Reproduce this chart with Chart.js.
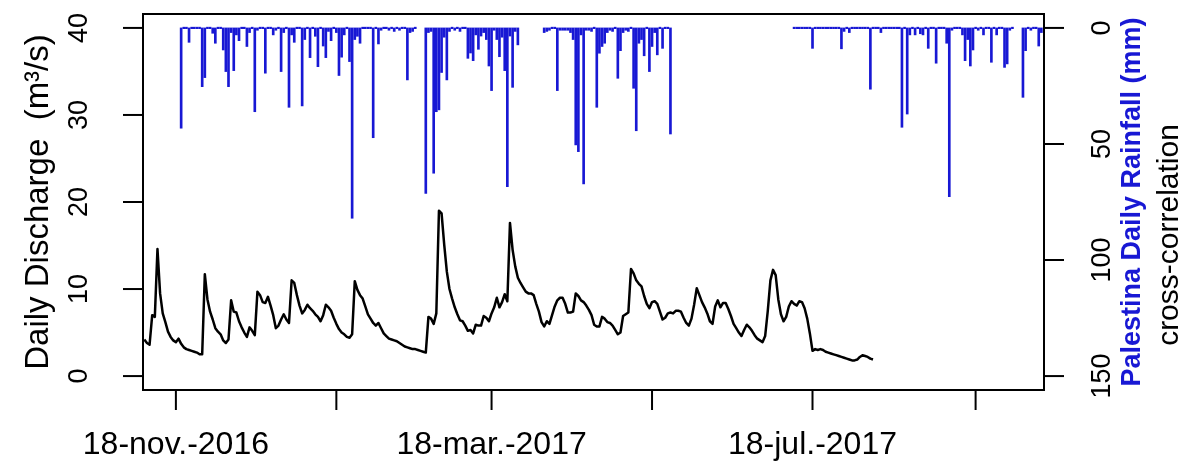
<!DOCTYPE html>
<html>
<head>
<meta charset="utf-8">
<title>Daily Discharge vs Palestina Daily Rainfall</title>
<script src="https://cdn.jsdelivr.net/npm/chart.js@4.4.1/dist/chart.umd.min.js"></script>
<style>
    html, body { margin: 0; padding: 0; background: #ffffff; }
    #wrap { width: 1185px; height: 465px; }
</style>
</head>
<body>
<div id="wrap"><canvas id="dischargeChart" width="1185" height="465"></canvas></div>
<script>
// Days are counted from 18-nov-2016 (day 0)
const firstDischargeDay = -12;

// Daily discharge (m3/s), one value per day starting at firstDischargeDay
const discharge = [
    4.2, 3.8, 3.6, 7.0, 6.8, 14.6, 9.5, 7.2, 6.2, 5.1, 4.5, 4.1,
    3.9, 4.3, 3.7, 3.3, 3.1, 3.0, 2.9, 2.8, 2.7, 2.5, 2.5, 11.7,
    8.8, 7.4, 6.5, 5.5, 5.1, 4.8, 4.1, 3.8, 4.2, 8.7, 7.4, 7.3,
    6.3, 5.6, 5.0, 4.5, 5.6, 5.2, 4.7, 9.7, 9.3, 8.5, 8.4, 9.1,
    8.1, 7.0, 5.5, 5.8, 6.5, 7.1, 6.5, 6.1, 11.0, 10.7, 9.3, 8.1,
    7.2, 7.6, 8.2, 7.8, 7.5, 7.1, 6.8, 6.3, 7.0, 8.2, 7.9, 7.5,
    6.7, 6.0, 5.4, 5.0, 4.8, 4.5, 4.4, 4.8, 10.9, 9.9, 9.3, 8.9,
    8.0, 7.1, 6.6, 6.1, 5.8, 6.1, 5.5, 4.9, 4.6, 4.3, 4.2, 4.1,
    4.0, 3.8, 3.6, 3.4, 3.3, 3.2, 3.1, 3.1, 3.0, 2.9, 2.8, 2.7,
    6.8, 6.6, 6.0, 7.2, 19.0, 18.7, 15.1, 12.0, 10.0, 8.9, 7.9, 7.1,
    6.4, 6.3, 5.8, 5.2, 5.3, 4.9, 5.9, 5.8, 5.8, 6.9, 6.7, 6.3,
    7.2, 7.9, 9.0, 7.9, 8.5, 9.4, 8.6, 17.6, 14.5, 12.6, 11.3, 10.7,
    10.2, 9.7, 9.5, 9.5, 9.3, 8.3, 7.4, 6.2, 5.7, 6.3, 6.0, 7.0,
    8.0, 8.7, 9.0, 9.0, 8.3, 7.3, 7.3, 7.4, 9.5, 9.2, 8.7, 8.5,
    8.1, 7.6, 7.0, 5.9, 5.7, 5.7, 6.8, 6.6, 6.2, 6.1, 5.8, 5.3,
    4.8, 5.0, 6.9, 7.1, 7.3, 12.3, 11.8, 11.0, 10.6, 10.3, 9.2, 8.3,
    7.8, 8.5, 8.6, 8.3, 7.4, 6.5, 6.7, 7.2, 7.3, 7.2, 7.5, 7.5,
    7.4, 6.7, 6.1, 5.8, 6.6, 8.2, 10.1, 9.3, 8.5, 7.9, 7.2, 6.3,
    6.0, 8.0, 8.7, 7.9, 8.4, 8.4, 7.7, 6.9, 6.0, 5.5, 5.0, 4.6,
    5.3, 5.9, 5.6, 5.2, 4.7, 4.3, 4.1, 3.9, 4.6, 7.5, 11.0, 12.2,
    11.6, 8.8, 7.1, 6.3, 6.8, 8.0, 8.6, 8.3, 8.1, 8.6, 8.5, 7.8,
    6.6, 4.9, 2.9, 3.1, 3.0, 3.1, 3.0, 2.8, 2.7, 2.6, 2.5, 2.4,
    2.3, 2.2, 2.1, 2.0, 1.9, 1.8, 1.8, 1.9, 2.2, 2.4, 2.3, 2.2,
    2.0, 1.9
];

// Days on which rain was recorded at Palestina (inclusive spans)
const rainRecordSpans = [[2, 91], [95, 130], [140, 188], [235, 318], [322, 329]];

// Rain days and amounts (mm); other recorded days had no rain
const rainDays = [
    2, 5, 10, 11, 14, 15, 18, 19, 20, 21, 22, 23, 24, 27, 28, 30, 31, 34, 37, 38,
    40, 41, 43, 44, 45, 48, 49, 51, 53, 54, 56, 57, 58, 59, 61, 62, 63, 64, 66, 67,
    68, 69, 70, 75, 77, 78, 81, 83, 85, 88, 89, 90,
    95, 96, 97, 98, 99, 100, 101, 102, 103, 104, 106, 108, 111, 112, 113, 114, 115, 116,
    117, 118, 119, 120, 121, 122, 123, 124, 125, 126, 127, 128, 129, 130,
    140, 141, 142, 145, 146, 147, 148, 149, 150, 151, 152, 153, 154, 155, 156, 157, 158,
    160, 161, 162, 163, 164, 165, 166, 168, 169, 170, 171, 172, 174, 175, 176, 177, 178,
    180, 181, 182, 183, 185, 188,
    242, 253, 254, 256, 264, 268, 276, 278, 279, 281, 283, 284, 286, 289, 293, 294, 295,
    299, 300, 301, 302, 303, 305, 307, 310, 312, 315, 316, 317, 322, 323, 325, 328, 329
];
const rainMm = [
    43.2, 6.2, 25.3, 21.4, 2.3, 6.6, 9.5, 18.8, 25.3, 2, 18.4, 3, 5.5, 8.0, 2, 36.1, 1, 19.5, 3.0, 1,
    18.8, 2, 34.2, 3, 6.2, 33.6, 5, 12.8, 3.6, 16.7, 7.8, 12.8, 1.5, 5.5, 2, 20.5, 12.6, 3, 14.5, 82,
    5, 3.6, 6.6, 47.3, 6.9, 1, 1, 1.5, 1, 22.4, 2, 1.5,
    71.3, 2, 1.5, 62.6, 36.1, 35.3, 19.2, 4, 22.4, 1.5, 1, 1.5, 13.1, 10.8, 14.1, 3, 9.2, 3.5,
    2, 5, 16.4, 27, 1, 5, 12.4, 4, 18.4, 68.4, 3.5, 25.6, 1.5, 7.3,
    2, 1.5, 1, 27, 1, 1, 1, 1, 2, 5, 50.4, 53.3, 3, 67.2, 1, 1, 1.5,
    34.2, 10.9, 8, 6.6, 2, 1, 1.5, 21.7, 9.8, 2, 1, 1.5, 26, 44.3, 6.6, 5, 12,
    18.8, 8, 2, 11.6, 8.8, 45.7,
    8.8, 9.0, 1.5, 2, 26.4, 2, 42.8, 37.1, 3, 3, 2.5, 3, 8.8, 15.2, 6.6, 72.7, 1,
    3, 14.1, 5, 16.4, 9.5, 1, 3, 14.8, 3, 17.0, 15.5, 1, 29.9, 9.8, 1, 7.8, 2
];

// Axis ticks
const dateTicks = [0, 61, 120, 181, 242, 304];
const dateTickLabels = ['18-nov.-2016', '', '18-mar.-2017', '', '18-jul.-2017', ''];
const dischargeTicks = [0, 10, 20, 30, 40];
const rainTicks = [0, 50, 100, 150];

const BLUE = '#1818d4';
const FONT = '"Liberation Sans", Arial, sans-serif';

const dischargePoints = discharge.map((v, i) => ({ x: firstDischargeDay + i, y: v }));

const rainPoints = [];
rainRecordSpans.forEach(([from, to]) => {
    for (let d = from; d <= to; d++) {
        const k = rainDays.indexOf(d);
        rainPoints.push({ x: d, y: k >= 0 ? rainMm[k] : 0 });
    }
});

// draws a string turned to read bottom-to-top, centred on (x, y)
function verticalText(ctx, text, x, y) {
    ctx.save();
    ctx.translate(x, y);
    ctx.rotate(-Math.PI / 2);
    ctx.fillText(text, 0, 0);
    ctx.restore();
}

// Box, tick marks, rotated labels and axis titles
const framePlugin = {
    id: 'frame',
    afterDraw(chart) {
        const { ctx, chartArea: a, scales } = chart;
        ctx.save();
        ctx.strokeStyle = '#000';
        ctx.lineWidth = 2;
        ctx.strokeRect(a.left, a.top, a.right - a.left, a.bottom - a.top);

        const tickLen = 20;
        ctx.fillStyle = '#000';
        ctx.font = '27px ' + FONT;
        ctx.textAlign = 'center';
        ctx.textBaseline = 'middle';

        dischargeTicks.forEach(v => {
            const y = scales.y.getPixelForValue(v);
            ctx.beginPath();
            ctx.moveTo(a.left - tickLen, y);
            ctx.lineTo(a.left, y);
            ctx.stroke();
            verticalText(ctx, String(v), a.left - 63, y);
        });

        rainTicks.forEach(v => {
            const y = scales.y2.getPixelForValue(v);
            ctx.beginPath();
            ctx.moveTo(a.right, y);
            ctx.lineTo(a.right + tickLen, y);
            ctx.stroke();
            verticalText(ctx, String(v), a.right + 59, y);
        });

        ctx.font = '32px ' + FONT;
        dateTicks.forEach((d, i) => {
            const x = scales.x.getPixelForValue(d);
            ctx.beginPath();
            ctx.moveTo(x, a.bottom);
            ctx.lineTo(x, a.bottom + tickLen);
            ctx.stroke();
            if (dateTickLabels[i]) ctx.fillText(dateTickLabels[i], x, a.bottom + 55);
        });

        // axis titles
        const midY = (a.top + a.bottom) / 2;
        ctx.font = '33px ' + FONT;
        verticalText(ctx, 'Daily Discharge  (m\u00b3/s)', 39, midY);

        ctx.font = 'bold 27px ' + FONT;
        ctx.fillStyle = BLUE;
        verticalText(ctx, 'Palestina Daily Rainfall (mm)', 1133, midY);

        ctx.font = '30px ' + FONT;
        ctx.fillStyle = '#000';
        verticalText(ctx, 'cross-correlation', 1170, 235);

        ctx.restore();
    }
};

new Chart(document.getElementById('dischargeChart'), {
    type: 'bar',
    data: {
        datasets: [
            {
                type: 'line',
                label: 'Daily Discharge',
                data: dischargePoints,
                yAxisID: 'y',
                borderColor: '#000000',
                borderWidth: 2.5,
                borderJoinStyle: 'round',
                pointRadius: 0,
                tension: 0,
                order: 0
            },
            {
                type: 'bar',
                label: 'Palestina Daily Rainfall',
                data: rainPoints,
                yAxisID: 'y2',
                backgroundColor: BLUE,
                borderWidth: 0,
                barThickness: 2,
                minBarLength: 1.5,
                order: 1
            }
        ]
    },
    options: {
        responsive: false,
        animation: false,
        layout: { padding: { left: 143, right: 141, top: 14, bottom: 75 } },
        plugins: {
            legend: { display: false },
            tooltip: { enabled: false }
        },
        scales: {
            x: { type: 'linear', min: -12.5, max: 330, offset: false, display: false },
            y: { type: 'linear', min: -1.6, max: 41.6, display: false },
            y2: { type: 'linear', min: -6, max: 156, reverse: true, display: false }
        }
    },
    plugins: [framePlugin]
});
</script>
</body>
</html>
